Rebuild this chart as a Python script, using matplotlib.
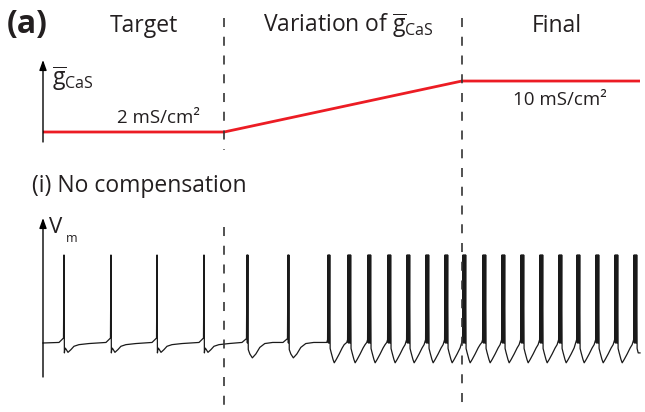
import numpy as np
import matplotlib
matplotlib.use("Agg")
import matplotlib.pyplot as plt
from matplotlib import transforms
from matplotlib.lines import Line2D

plt.rcParams['font.family'] = ['Open Sans', 'DejaVu Sans']
plt.rcParams['mathtext.fontset'] = 'custom'
plt.rcParams['mathtext.rm'] = 'Open Sans'
plt.rcParams['mathtext.it'] = 'Open Sans:italic'
plt.rcParams['lines.scale_dashes'] = False

TXT = '#231f20'

# ---------------- data ----------------
# time axis (arbitrary units), phase boundaries
t_end = 60.0
t_change_start = 18.2
t_change_end = 42.1

# maximal conductance gCaS (mS/cm^2) during the protocol
g_times = [0.0, t_change_start, t_change_end, t_end]
g_values = [2.0, 2.0, 10.0, 10.0]

# membrane potential: spike / burst event onsets
event_times = [2.11, 6.83, 11.46, 16.18, 20.50, 24.62, 28.64, 30.65, 32.66,
               34.67, 36.58, 38.49, 40.40, 42.21, 44.22, 46.13, 48.04, 49.95,
               51.86, 53.67, 55.58, 57.49, 59.40]
# spikes per event
event_nspikes = [1, 1, 1, 1, 2, 2, 3, 4, 4, 4, 4, 4, 4, 4, 4, 4, 4, 4, 4, 4, 4, 4, 4]
# event kind (waveform around the event)
event_kind = ['single'] * 4 + ['mid'] * 2 + ['burst'] * 17

v_start = -60.0
v_peak = 20.0
v_intra = -60.0
intra_dt = 0.09
# pre-spike trajectory (time before onset, mV)
pre_templates = {
    'single': [(-0.5, -59.5), (-0.05, -55.5)],
    'mid': [(-0.5, -59.5), (-0.05, -56.0)],
    'burst': [(-0.12, -59.5), (-0.04, -57.0)],
}
# after-event trajectories (time after last spike, mV)
after_templates = {
    'single': [(0.04, -69.0), (0.10, -64.5), (0.20, -65.5), (0.40, -68.5),
               (0.70, -66.0), (1.00, -63.0), (1.50, -61.5), (2.50, -60.5)],
    'mid': [(0.04, -66.0), (0.20, -70.0), (0.45, -73.5), (0.80, -70.0),
            (1.20, -64.0), (1.70, -60.5), (2.50, -59.5)],
    'burst': [(0.04, -65.0), (0.15, -69.0), (0.33, -75.0), (0.45, -78.0),
              (0.65, -75.0), (0.95, -70.0), (1.25, -64.5), (1.45, -61.5)],
}

# ---------------- build trace from events ----------------
vt = [0.0]
vv = [v_start]
for k, (t0, n, kind) in enumerate(zip(event_times, event_nspikes, event_kind)):
    for dt, val in pre_templates[kind]:
        if t0 + dt > vt[-1]:
            vt.append(t0 + dt); vv.append(val)
    for j in range(n):
        ts = t0 + j * intra_dt
        vt.append(ts); vv.append(v_peak)
        vt.append(ts + 0.04); vv.append(v_intra)
    tl = t0 + (n - 1) * intra_dt
    if k + 1 < len(event_times):
        nk = event_kind[k + 1]
        limit = event_times[k + 1] + pre_templates[nk][0][0] - 0.05
    else:
        limit = t_end
    for dt, val in after_templates[kind]:
        if tl + dt < limit and tl + dt <= t_end:
            vt.append(tl + dt); vv.append(val)
vt = np.array(vt); vv = np.array(vv)
if vt[-1] < t_end:
    vt = np.append(vt, t_end); vv = np.append(vv, vv[-1])

# ---------------- figure ----------------
W, H = 645, 412
fig = plt.figure(figsize=(W / 100, H / 100), dpi=100)

def fx(px):
    return px / W

def fy(py):
    return 1 - py / H

left = fx(43)
width = fx(640) - fx(43)

ax_g = fig.add_axes([left, fy(142), width, fy(60) - fy(142)])
ax_v = fig.add_axes([left, fy(377), width, fy(218) - fy(377)])
for ax in (ax_g, ax_v):
    ax.set_xlim(0, t_end)
    ax.axis('off')
ax_g.set_ylim(0.43, 13.3)
ax_v.set_ylim(-90.9, 53.6)

ax_g.plot(g_times, g_values, color='#ec1c24', lw=2.0, solid_capstyle='butt', clip_on=False)
ax_v.plot(vt, vv, color='#1a1a1a', lw=0.9, clip_on=False)

arrow_kw = dict(arrowstyle='-|>,head_length=0.5,head_width=0.18', lw=1.0,
                color='black', mutation_scale=12, shrinkA=0, shrinkB=0)
for ax in (ax_g, ax_v):
    y0, y1 = ax.get_ylim()
    ax.annotate('', xy=(0, y1), xytext=(0, y0), xycoords='data',
                arrowprops=arrow_kw, annotation_clip=False)

# dashed phase boundaries
tr = transforms.blended_transform_factory(ax_v.transData, fig.transFigure)
dash = dict(color='#333333', lw=1.2, linestyle=(0, (6.5, 7.0)), transform=tr)
fig.add_artist(Line2D([t_change_start] * 2, [fy(18), fy(150)], **dash))
fig.add_artist(Line2D([t_change_start] * 2, [fy(227), fy(405)], **dash))
fig.add_artist(Line2D([t_change_end] * 2, [fy(18), fy(405)], **dash))

# texts
fig.text(fx(7), fy(33), '(a)', fontsize=23, fontweight='bold', color=TXT, va='baseline')
fig.text(fx(144), fy(32), 'Target', fontsize=16.5, color=TXT, ha='center', va='baseline')
fig.text(fx(263), fy(32), r'Variation of $\overline{\mathrm{g}}_{\mathrm{CaS}}$',
         fontsize=16.5, color=TXT, ha='left', va='baseline')
fig.text(fx(557), fy(32), 'Final', fontsize=16.5, color=TXT, ha='center', va='baseline')
fig.text(fx(52), fy(85), r'$\overline{\mathrm{g}}_{\mathrm{CaS}}$', fontsize=16.5,
         color=TXT, ha='left', va='baseline')
fig.text(fx(117), fy(123), '2 mS/cm²', fontsize=13.5, color=TXT, ha='left', va='baseline')
fig.text(fx(513), fy(105), '10 mS/cm²', fontsize=13.5, color=TXT, ha='left', va='baseline')
fig.text(fx(32), fy(192), '(i) No compensation', fontsize=16.5, color=TXT,
         ha='left', va='baseline')
fig.text(fx(49), fy(233), 'V', fontsize=16, color=TXT, ha='left', va='baseline')
fig.text(fx(66), fy(242), 'm', fontsize=9, color=TXT, ha='left', va='baseline')

fig.savefig('out.png', dpi=100)
